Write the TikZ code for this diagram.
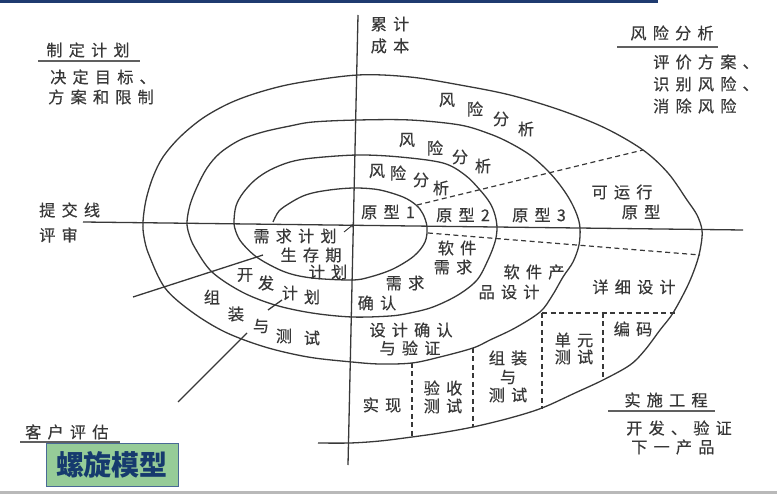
\documentclass[tikz,border=0pt]{standalone}
\usepackage{fontspec}
\usepackage{tikz}
\usetikzlibrary{arrows.meta}
\newfontfamily\cjk[LetterSpace=38, FakeBold=0.4]{Noto Sans CJK SC}
\newfontfamily\cjkt{Noto Sans CJK SC}
\definecolor{ink}{HTML}{383838}
\definecolor{navy}{HTML}{1F3B70}
\definecolor{boxgreen}{HTML}{96CC98}
\definecolor{boxedge}{HTML}{4A6A96}
\definecolor{titleblue}{HTML}{163A6E}
\newcommand\zh{\cjk\fontsize{16.2}{19}\selectfont}
\tikzset{
  txt/.style={font=\zh, text=ink, inner sep=0pt},
  wtxt/.style={txt, anchor=west},
  spiral/.style={draw=ink, line width=1.3pt},
  cut/.style={draw=ink, line width=1.2pt, dash pattern=on 5pt off 3.5pt},
  uline/.style={draw=ink!80, line width=1.1pt},
}

\begin{document}
\begin{tikzpicture}[x=1pt, y=-1pt]
\useasboundingbox (0,0) rectangle (777,494);
% frame bits of the slide
\fill[navy] (0,0) rectangle (658,3);
\fill[gray!55] (0,491) rectangle (777,494);

% axes
\coordinate (vt) at (358,15);
\coordinate (vb) at (348,465);
\coordinate (hl) at (83,222);
\coordinate (hr) at (743,230);
\draw[spiral] (vt) -- (vb);
\draw[spiral] (hl) -- (hr);

% the spiral
\draw[spiral] plot[smooth, tension=0.55] coordinates {
  (273,222) (279,211) (290,203) (303,196) (317,192) (338,189) (358,188) (380,190) (403,197) (416,205) (423,214) (427,227)
  (425,242) (414,256) (393,269) (370,277) (352,280) (312,278) (285,272) (258,258) (242,243) (236,232) (234,222)
  (236,206) (243,193) (255,180) (270,170) (290,162) (313,158) (358,155) (400,157) (443,163) (465,175) (480,190) (490,203) (495,215) (497,228)
  (495,242) (488,260) (477,280) (458,295) (433,307) (410,313) (390,316) (352,317) (312,313) (275,305) (242,292) (212,272) (195,248) (189,234) (187,222)
  (190,205) (197,187) (207,168) (220,153) (240,140) (263,132) (290,126) (313,122) (358,120) (410,120) (460,125) (490,134) (510,143) (530,155) (547,170) (560,185) (570,200) (577,215) (580,228)
  (579,245) (573,262) (563,277) (552,296) (540,312) (515,328) (490,340) (473,348) (440,357) (412,363) (380,364) (352,362) (308,357) (265,347) (225,332) (192,312) (165,288) (149,255) (144,237) (143,222)
  (146,200) (153,177) (163,157) (180,137) (203,118) (230,103) (260,92) (297,83) (358,75) (410,77) (460,85) (510,95) (560,110) (605,128) (643,150) (668,173) (687,200) (697,215) (702,230)
  (701,245) (697,262) (688,285) (673,313) (660,330) (645,350) (630,365) (603,380) (575,393) (542,408) (510,418) (473,427) (440,433) (412,437) (380,441) (350,443) (318,443)
};

% review lines
\coordinate (a1) at (133,297);
\coordinate (a2) at (263,255);
\coordinate (b1) at (178,402);
\coordinate (b2) at (247,333);
\coordinate (c1) at (268,310);
\coordinate (c2) at (282,300);
\draw[spiral] (a1) -- (a2);
\draw[spiral] (b1) -- (b2);
\draw[spiral] (c1) -- (c2);
\coordinate (s0) at (344,232);
\coordinate (s1) at (354,224);
\draw[ink, line width=0.9pt, -{Stealth[length=4pt, width=3.5pt]}] (s0) -- (s1);

% dashed cuts
\coordinate (d1) at (417,205);
\coordinate (d2) at (643,150);
\coordinate (d3) at (428,233);
\coordinate (d4) at (700,255);
\coordinate (e1) at (542,313);
\coordinate (e2) at (675,313);
\coordinate (e3) at (542,409);
\coordinate (f1) at (603,313);
\coordinate (f2) at (603,380);
\coordinate (g1) at (473,348);
\coordinate (g2) at (473,427);
\coordinate (k1) at (412,363);
\coordinate (k2) at (412,437);
\draw[cut] (d1) -- (d2);
\draw[cut] (d3) -- (d4);
\draw[cut] (e1) -- (e2);
\draw[cut] (e1) -- (e3);
\draw[cut] (f1) -- (f2);
\draw[cut] (g1) -- (g2);
\draw[cut] (k1) -- (k2);

% quadrant headings
\node[txt] (plan) at (88,50) {制定计划};
\draw[uline] (38,61) -- (140,61);
\node[wtxt] (plan1) at (50,77) {决定目标、};
\node[wtxt] (plan2) at (48,97) {方案和限制};
\node[txt] (cost1) at (390,24) {累计};
\node[txt] (cost2) at (390,46) {成本};
\node[txt] (risk) at (672,33) {风险分析};
\draw[uline] (617,47) -- (718,47);
\node[wtxt] (risk1) at (653,62) {评价方案、};
\node[wtxt] (risk2) at (653,84) {识别风险、};
\node[wtxt] (risk3) at (653,106) {消除风险};
\node[wtxt] (submit) at (39,210) {提交线};
\node[wtxt] (review) at (39,235) {评审};
\node[wtxt] (cust) at (25,432) {客户评估};
\draw[uline] (20,442) -- (120,442);
\node[txt] (impl) at (666,400) {实施工程};
\draw[uline] (608,411) -- (715,411);
\node[wtxt] (impl1) at (626,428) {开发、验证};
\node[wtxt] (impl2) at (631,447) {下一产品};

% risk analysis on each turn
\node[txt] (ra1) at (447,100) {风};
\node[txt] (ra2) at (475,109) {险};
\node[txt] (ra3) at (501,119) {分};
\node[txt] (ra4) at (526,129) {析};
\node[txt] (rb1) at (407,140) {风};
\node[txt] (rb2) at (435,148) {险};
\node[txt] (rb3) at (460,157) {分};
\node[txt] (rb4) at (483,166) {析};
\node[txt] (rc1) at (377,171) {风};
\node[txt] (rc2) at (398,173) {险};
\node[txt] (rc3) at (421,180) {分};
\node[txt] (rc4) at (441,188) {析};

% prototypes
\node[txt] (proto1) at (388,212) {原型1};
\node[txt] (proto2) at (463,215) {原型2};
\node[txt] (proto3) at (539,215) {原型3};
\node[txt] (run1) at (622,192) {可运行};
\node[txt] (run2) at (641,212) {原型};

% planning quadrant
\node[txt] (req1) at (295,236) {需求计划};
\node[txt] (req2) at (311,255) {生存期};
\node[txt] (req3) at (328,272) {计划};
\node[txt] (dev1) at (245,275) {开};
\node[txt] (dev2) at (266,283) {发};
\node[txt] (dev3) at (290,293) {计};
\node[txt] (dev4) at (312,297) {划};
\node[txt] (int1) at (212,297) {组};
\node[txt] (int2) at (236,314) {装};
\node[txt] (int3) at (261,326) {与};
\node[txt] (int4) at (284,336) {测};
\node[txt] (int5) at (312,338) {试};

% engineering quadrant
\node[txt] (conf1) at (405,283) {需求};
\node[txt] (conf2) at (377,303) {确认};
\node[txt] (swr1) at (457,248) {软件};
\node[txt] (swr2) at (453,267) {需求};
\node[txt] (swd1) at (534,272) {软件产};
\node[txt] (swd2) at (509,292) {品设计};
\node[txt] (det) at (634,287) {详细设计};
\node[txt] (ver1) at (411,330) {设计确认};
\node[txt] (ver2) at (410,348) {与验证};
\node[txt] (code) at (633,329) {编码};
\node[txt] (unit1) at (574,340) {单元};
\node[txt] (unit2) at (574,357) {测试};
\node[txt] (asm1) at (508,358) {组装};
\node[txt] (asm2) at (508,377) {与};
\node[txt] (asm3) at (508,395) {测试};
\node[txt] (acc1) at (443,388) {验收};
\node[txt] (acc2) at (443,406) {测试};
\node[txt] (impl0) at (382,405) {实现};

% title box
\node[draw=boxedge, fill=boxgreen, line width=0.9pt, minimum width=132pt, minimum height=43pt, inner sep=0pt,
      font=\cjkt\bfseries\fontsize{28}{30}\selectfont, text=titleblue] (title) at (112,464.5) {螺旋模型};
\end{tikzpicture}
\end{document}
